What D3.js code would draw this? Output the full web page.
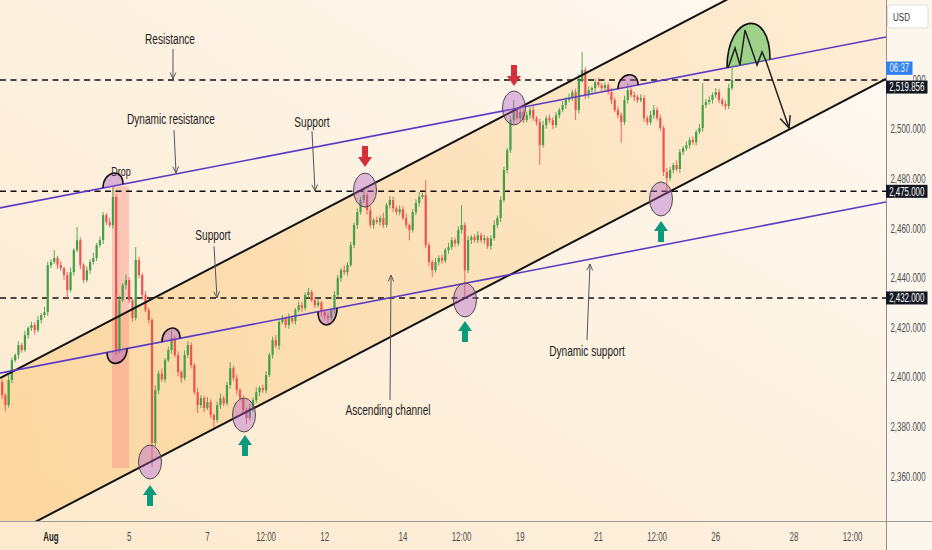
<!DOCTYPE html>
<html><head><meta charset="utf-8">
<script src="https://cdn.jsdelivr.net/npm/d3@7"></script>
<style>html,body{margin:0;padding:0;background:#fdf3e3;overflow:hidden}svg{display:block}</style>
</head><body>
<svg id="chart" width="932" height="550"></svg>
<script>
// ---------------- DATA ----------------
// Candle i sits at trading-day (since Aug 1) = firstDay + i * barStep
const firstDay = -1.25;
const barStep = 1 / 12;
const firstOpen = 2398.0;
const closes = [
 2392.8,2388.8,2398.9,2406.9,2409.0,2413.0,2411.0,2417.0,2419.9,2421.1,
 2419.0,2423.1,2425.1,2426.3,2445.2,2446.5,2448.1,2445.3,2444.0,2441.2,
 2435.2,2442.4,2451.3,2455.3,2445.3,2439.2,2443.2,2446.5,2448.1,2453.3,
 2455.3,2465.4,2462.6,2461.4,2472.7,2411.0,2431.1,2437.2,2439.2,2431.1,
 2423.9,2447.3,2441.2,2433.2,2427.1,2423.1,2373.5,2394.8,2401.5,2399.2,
 2406.9,2411.0,2415.8,2409.0,2402.1,2399.7,2409.0,2413.0,2404.9,2394.0,
 2388.8,2391.6,2387.6,2390.0,2384.8,2382.8,2388.8,2391.6,2389.5,2396.9,
 2403.7,2399.7,2394.8,2391.6,2386.8,2383.6,2387.6,2390.8,2394.0,2395.7,
 2394.8,2400.9,2409.0,2415.0,2412.8,2422.3,2423.9,2421.1,2423.9,2422.6,
 2427.1,2429.1,2428.0,2433.2,2434.4,2431.1,2429.1,2430.2,2426.3,2424.7,
 2423.9,2427.1,2433.2,2440.0,2443.2,2442.4,2445.3,2453.3,2461.4,2466.6,
 2471.5,2473.5,2467.4,2461.4,2463.4,2462.6,2464.2,2461.4,2469.4,2471.5,
 2468.2,2466.6,2467.8,2464.2,2461.4,2459.4,2466.6,2470.3,2472.7,2473.5,
 2453.3,2446.5,2443.2,2446.5,2448.1,2447.0,2451.3,2452.5,2455.3,2454.0,
 2459.4,2461.4,2443.2,2455.3,2456.5,2455.3,2457.3,2455.3,2456.1,2452.9,
 2456.1,2461.4,2464.2,2471.5,2483.6,2491.6,2503.7,2507.8,2504.5,2507.0,
 2503.7,2505.7,2507.8,2504.5,2502.9,2493.6,2501.7,2504.5,2503.7,2501.7,
 2505.7,2507.8,2509.8,2511.8,2512.6,2515.0,2507.8,2519.9,2523.9,2513.8,
 2515.8,2516.6,2519.0,2517.8,2516.6,2517.8,2515.0,2511.8,2507.8,2505.7,
 2502.9,2511.8,2515.8,2513.8,2513.0,2511.8,2512.6,2504.5,2502.9,2505.7,
 2507.8,2504.5,2500.5,2482.8,2480.3,2483.6,2485.6,2484.0,2490.8,2492.4,
 2493.6,2495.7,2494.8,2498.9,2500.5,2509.8,2511.0,2511.8,2513.8,2515.0,
 2511.8,2510.2,2509.4,2516.6,2519.856
];
const upperWicks = [
 1.2,0.8,2.0,1.1,0.6,1.5,0.9,1.8,0.7,1.3,
 1.0,1.6,0.8,2.2,1.4,1.1,3.2,0.9,1.7,0.6,
 1.3,1.9,0.8,5.3,1.2,0.7,1.5,1.0,2.1,0.9,
 1.4,1.2,0.8,1.6,4.0,1.1,1.8,0.9,2.3,1.2,
 0.7,5.2,1.3,0.9,1.6,1.1,0.8,1.9,1.2,2.0,
 0.9,1.4,3.2,1.0,1.5,0.7,1.8,1.6,1.1,0.8,
 1.7,1.2,0.9,2.1,1.0,0.6,1.4,1.8,0.9,1.3,
 2.4,1.0,1.5,0.8,1.2,0.9,1.7,1.1,2.0,0.8,
 1.3,1.6,0.9,1.4,2.1,1.0,1.2,0.7,1.9,1.1,
 0.8,1.5,1.2,1.0,1.6,0.9,1.3,2.0,0.7,1.1,
 1.4,0.9,1.6,1.2,0.8,1.8,1.1,1.3,0.9,1.5,
 1.2,3.2,1.0,1.7,0.8,1.4,1.1,2.2,0.9,1.6,
 1.3,0.8,1.5,1.1,1.9,0.7,1.2,1.4,2.0,1.0,
 6.0,1.2,0.9,1.6,1.1,1.4,0.8,1.7,1.2,1.0,
 1.5,8.0,1.1,1.8,0.9,1.3,1.6,1.0,1.4,0.8,
 1.2,1.9,1.0,1.5,1.3,0.9,1.8,4.0,1.1,1.6,
 0.9,1.4,1.2,2.0,0.8,1.3,1.7,1.0,1.5,1.1,
 1.3,0.9,1.6,1.2,1.8,1.0,1.4,2.2,7.3,1.1,
 1.5,0.8,1.3,1.7,1.0,1.2,0.9,1.6,1.1,1.4,
 1.0,1.8,2.8,1.1,1.3,0.9,1.5,1.2,1.0,1.7,
 2.0,1.1,1.4,0.9,1.6,1.2,1.0,1.8,1.3,0.9,
 1.5,1.1,1.4,1.0,1.7,8.8,1.2,1.5,1.0,1.6,
 1.3,0.9,1.4,1.8,4.8
];
const lowerWicks = [
 1.5,2.5,1.0,1.3,0.8,1.6,1.1,0.7,1.4,1.2,
 1.8,0.9,1.3,1.0,1.6,1.2,0.8,1.5,1.1,1.9,
 3.7,1.0,1.4,0.8,1.7,1.2,0.9,1.5,1.1,1.3,
 0.9,1.6,1.2,1.0,1.4,2.0,1.3,0.8,1.7,1.1,
 1.5,1.0,1.3,1.8,0.9,1.4,9.7,1.2,1.6,1.0,
 1.3,0.8,1.5,1.1,1.7,2.0,1.0,1.2,1.4,0.9,
 3.2,1.1,1.6,0.8,1.3,3.2,1.0,1.5,1.2,0.9,
 1.4,1.1,1.7,1.0,1.3,2.4,0.9,1.5,1.2,1.6,
 1.0,1.3,0.8,1.4,1.1,1.7,0.9,1.2,1.5,1.0,
 1.3,0.9,1.6,1.1,1.4,0.8,1.2,1.0,1.7,1.3,
 2.4,1.0,1.3,0.9,1.5,1.1,1.4,0.8,1.2,1.6,
 1.0,1.3,1.8,1.1,1.4,0.9,1.5,1.2,1.0,1.3,
 1.6,1.1,1.3,0.9,1.4,4.1,1.0,1.2,1.5,0.8,
 1.3,1.7,2.8,1.0,1.4,1.2,0.9,1.5,1.1,1.3,
 1.0,1.4,10.8,1.2,1.6,0.9,1.3,1.1,1.5,1.2,
 1.4,1.0,1.2,1.6,0.9,1.3,1.1,1.5,1.0,1.4,
 1.2,0.9,1.5,1.1,1.3,8.0,1.0,1.4,1.2,1.6,
 1.1,1.3,0.9,1.5,1.0,1.2,4.0,1.4,1.1,1.6,
 1.3,1.0,1.5,0.9,1.2,1.4,1.1,1.7,1.0,1.3,
 8.4,1.1,1.4,1.0,1.6,1.2,0.9,1.5,1.3,1.1,
 1.4,1.0,1.2,1.6,6.0,1.1,1.3,0.9,1.5,1.2,
 1.0,1.4,1.1,1.3,0.9,1.5,1.2,1.0,1.4,1.1,
 1.3,1.0,1.5,1.2,0.8
];

// Axis ticks
const priceTicks = [2360, 2380, 2400, 2420, 2440, 2460, 2480, 2500];
const hiddenTick = 2520; // mostly covered by the countdown label
const timeTickDays = [0, 2, 4, 5.5, 7, 9, 10.5, 12, 14, 15.5, 17, 19, 20.5];
const timeTickLabels = ['Aug', '5', '7', '12:00', '12', '14', '12:00', '19', '21', '12:00', '26', '28', '12:00'];

// Drawings (trading-day, price)
const channelUpper = [[-1.304, 2399.7], [21.355, 2585.7]];
const channelLower = [[-1.304, 2334.3], [21.355, 2520.3]];
const dynamicResistance = [[-1.304, 2468.3], [21.355, 2537.2]];
const dynamicSupport = [[-1.304, 2401.7], [21.355, 2470.7]];
const horizontalLevels = [2519.9, 2475.0, 2432.0];
const boxLevels = [2475.0, 2432.0];
const lastPrice = 2519.856;
const countdown = '06:37';
const dropZone = [[1.56, 2477.0], [1.995, 2363.4]];

const arcLines = ['res', 'sup', 'sup', 'sup', 'res'];
const arcFrom = [1.330, 1.432, 2.839, 6.829, 14.501];
const arcTo = [1.841, 1.944, 3.299, 7.315, 15.013];
const arcBulge = [5.2, -5.1, 4.8, -6.0, 4.8];
const greenArc = [17.289, 18.389, 16.1];

const touchDays = [2.532, 4.936, 8.031, 10.588, 11.841, 15.601];
const touchPrices = [2365.85, 2384.8, 2475.5, 2431.2, 2508.6, 2471.9];

const upArrowDays = [2.532, 4.962, 10.588, 15.601];
const upArrowPrices = [2356.6, 2376.7, 2422.7, 2463.0];
const downArrowDays = [8.031, 11.841];
const downArrowPrices = [2484.8, 2517.5];

const noteTexts = ['Resistance', 'Dynamic resistance', 'Support', 'Drop', 'Support', 'Ascending channel', 'Dynamic support'];
const noteDays = [3.043, 3.069, 6.675, 1.790, 4.143, 8.619, 13.708];
const notePrices = [2534.4, 2502.1, 2500.9, 2481.2, 2455.4, 2384.8, 2408.6];

const pointerFrom = [[3.120, 2532.4], [3.146, 2499.7], [6.675, 2499.3], [4.169, 2452.9], [8.670, 2390.8], [13.708, 2415.0]];
const pointerTo = [[3.120, 2520.3], [3.197, 2482.4], [6.752, 2475.1], [4.246, 2432.0], [8.696, 2441.2], [13.785, 2445.7]];

const patternDays = [17.315, 17.494, 17.621, 17.749, 18.056, 18.184, 18.286, 18.875];
const patternPrices = [2524.7, 2532.8, 2525.9, 2540.0, 2525.9, 2531.2, 2527.5, 2500.5];

// ---------------- DRAWING ----------------
const W = 932, H = 550, plotR = 886, plotB = 521;
const svg = d3.select('#chart');
const x = d3.scaleLinear().domain([-1.3043, 21.355]).range([0, plotR]);
const y = d3.scaleLinear().domain([2342.06, 2552.14]).range([plotB, 0]);
const FONT = '"Liberation Sans", Arial, sans-serif';

const defs = svg.append('defs');
const bg = defs.append('linearGradient').attr('id', 'bg').attr('x1', 0).attr('y1', 1).attr('x2', 1).attr('y2', 0);
bg.append('stop').attr('offset', 0).attr('stop-color', '#fde9cc');
bg.append('stop').attr('offset', 0.5).attr('stop-color', '#fdf1e0');
bg.append('stop').attr('offset', 1).attr('stop-color', '#fffaf4');
const cf = defs.append('linearGradient').attr('id', 'chf').attr('x1', 0).attr('y1', 0).attr('x2', 1).attr('y2', 0);
cf.append('stop').attr('offset', 0).attr('stop-color', 'rgba(250,185,90,0.40)');
cf.append('stop').attr('offset', 1).attr('stop-color', 'rgba(250,195,110,0.22)');
defs.append('clipPath').attr('id', 'clip').append('rect').attr('x', 0).attr('y', 0).attr('width', plotR).attr('height', plotB);
defs.append('clipPath').attr('id', 'clipTick').append('rect').attr('x', 913).attr('y', 0).attr('width', 20).attr('height', 100);

svg.append('rect').attr('width', W).attr('height', H).attr('fill', 'url(#bg)');
svg.append('rect').attr('x', plotR).attr('y', 0).attr('width', W - plotR).attr('height', H).attr('fill', '#fdf6ec');

const plot = svg.append('g').attr('clip-path', 'url(#clip)');

function lineAt(l, d) { return l[0][1] + (l[1][1] - l[0][1]) * (d - l[0][0]) / (l[1][0] - l[0][0]); }

// Channel fill
const d0 = x.domain()[0], d1 = x.domain()[1];
plot.append('path')
  .attr('d', d3.line()([[x(d0), y(lineAt(channelUpper, d0))], [x(d1), y(lineAt(channelUpper, d1))],
                        [x(d1), y(lineAt(channelLower, d1))], [x(d0), y(lineAt(channelLower, d0))]]) + 'Z')
  .attr('fill', 'url(#chf)');

// Drop zone
plot.append('rect')
  .attr('x', x(dropZone[0][0])).attr('y', y(dropZone[0][1]))
  .attr('width', x(dropZone[1][0]) - x(dropZone[0][0]))
  .attr('height', y(dropZone[1][1]) - y(dropZone[0][1]))
  .attr('fill', 'rgba(253,140,130,0.42)');

// Horizontal dashed levels
plot.selectAll('.lvl').data(horizontalLevels).enter().append('line')
  .attr('x1', 0).attr('x2', plotR).attr('y1', d => y(d)).attr('y2', d => y(d))
  .attr('stroke', '#111').attr('stroke-width', 1.6).attr('stroke-dasharray', '6,4.5');

// Candles
const bars = closes.map((c, i) => {
  const o = i === 0 ? firstOpen : closes[i - 1];
  return { d: firstDay + i * barStep, o, c, h: Math.max(o, c) + upperWicks[i], l: Math.min(o, c) - lowerWicks[i] };
});
const cg = plot.append('g');
bars.forEach(b => {
  const col = b.c >= b.o ? '#43a047' : '#ef5350';
  const X = x(b.d);
  cg.append('line').attr('x1', X).attr('x2', X).attr('y1', y(b.h)).attr('y2', y(b.l)).attr('stroke', col).attr('stroke-width', 0.9);
  const top = y(Math.max(b.o, b.c)), bot = y(Math.min(b.o, b.c));
  cg.append('rect').attr('x', X - 1.1).attr('width', 2.2).attr('y', top).attr('height', Math.max(0.8, bot - top)).attr('fill', col);
});

// Channel & dynamic lines
function drawLine(l, color, w) {
  plot.append('line').attr('x1', x(d0)).attr('y1', y(lineAt(l, d0))).attr('x2', x(d1)).attr('y2', y(lineAt(l, d1)))
    .attr('stroke', color).attr('stroke-width', w);
}
drawLine(channelUpper, '#111', 2);
drawLine(channelLower, '#111', 2);
drawLine(dynamicResistance, '#5b3cc4', 1.6);
drawLine(dynamicSupport, '#5b3cc4', 1.6);

// Notes text
function txt(g, s, X, Y, size, sx, fill, anchor, weight) {
  return g.append('text').attr('transform', `translate(${X},${Y}) scale(${sx},1)`)
    .attr('text-anchor', anchor || 'middle').attr('font-size', size).attr('font-family', FONT)
    .attr('font-weight', weight || 'normal').attr('fill', fill).text(s);
}
noteTexts.forEach((t, i) => {
  txt(plot, t, x(noteDays[i]), y(notePrices[i]), t === 'Drop' ? 12.5 : 14, 0.72, '#1b1b1b');
});

// Pointer arrows
function arrowHead(g, x1, y1, x2, y2, len, color, w) {
  const a = Math.atan2(y2 - y1, x2 - x1), s = 0.42;
  const p1 = [x2 - len * Math.cos(a - s), y2 - len * Math.sin(a - s)];
  const p2 = [x2 - len * Math.cos(a + s), y2 - len * Math.sin(a + s)];
  g.append('path').attr('d', `M${p1[0]},${p1[1]}L${x2},${y2}L${p2[0]},${p2[1]}`)
    .attr('fill', 'none').attr('stroke', color).attr('stroke-width', w);
}
pointerFrom.forEach((f, i) => {
  const t = pointerTo[i];
  const X1 = x(f[0]), Y1 = y(f[1]), X2 = x(t[0]), Y2 = y(t[1]);
  plot.append('line').attr('x1', X1).attr('y1', Y1).attr('x2', X2).attr('y2', Y2).attr('stroke', '#555').attr('stroke-width', 1);
  arrowHead(plot, X1, Y1, X2, Y2, 7, '#555', 1);
});

// Arcs
function arcPath(l, a, b, bulge) {
  const X1 = x(a), Y1 = y(lineAt(l, a)), X2 = x(b), Y2 = y(lineAt(l, b));
  const k = (4 / 3) * (y(0) - y(bulge));
  return `M${X1},${Y1}C${X1},${Y1 - k} ${X2},${Y2 - k} ${X2},${Y2}`;
}
arcLines.forEach((ln, i) => {
  const l = ln === 'res' ? dynamicResistance : dynamicSupport;
  plot.append('path').attr('d', arcPath(l, arcFrom[i], arcTo[i], arcBulge[i]))
    .attr('fill', 'rgba(170,90,200,0.42)').attr('stroke', '#111').attr('stroke-width', 1.6);
});
plot.append('path').attr('d', arcPath(dynamicResistance, greenArc[0], greenArc[1], greenArc[2]))
  .attr('fill', 'rgba(80,190,80,0.55)').attr('stroke', '#111').attr('stroke-width', 1.6);

// Touch ellipses
touchDays.forEach((d, i) => {
  plot.append('ellipse').attr('cx', x(d)).attr('cy', y(touchPrices[i])).attr('rx', 11.5).attr('ry', 17)
    .attr('fill', 'rgba(175,95,205,0.4)').attr('stroke', '#4a4a4a').attr('stroke-width', 1);
});

// Block arrows
function blockArrow(X, Y, dir, color) {
  const s = dir; // 1 = up (tip at top), -1 = down
  const pts = [[X, Y], [X + 7, Y + 10 * s], [X + 3, Y + 10 * s], [X + 3, Y + 21 * s], [X - 3, Y + 21 * s], [X - 3, Y + 10 * s], [X - 7, Y + 10 * s]];
  plot.append('path').attr('d', d3.line()(pts) + 'Z').attr('fill', color);
}
upArrowDays.forEach((d, i) => blockArrow(x(d), y(upArrowPrices[i]), 1, '#0c9a7d'));
downArrowDays.forEach((d, i) => blockArrow(x(d), y(downArrowPrices[i]), -1, '#d2313c'));

// Head & shoulders zigzag with projection arrow
const zz = patternDays.map((d, i) => [x(d), y(patternPrices[i])]);
plot.append('path').attr('d', d3.line()(zz)).attr('fill', 'none').attr('stroke', '#222').attr('stroke-width', 1.5);
const n = zz.length;
arrowHead(plot, zz[n - 2][0], zz[n - 2][1], zz[n - 1][0], zz[n - 1][1], 13, '#222', 1.5);

// ---------------- AXES ----------------
svg.append('line').attr('x1', 0).attr('x2', W).attr('y1', plotB + 0.5).attr('y2', plotB + 0.5).attr('stroke', '#9a9a9a').attr('stroke-width', 1);
svg.append('line').attr('x1', plotR + 0.5).attr('x2', plotR + 0.5).attr('y1', 0).attr('y2', H).attr('stroke', '#8f8f8f').attr('stroke-width', 1);

const fmt = d3.format(',.3f');
priceTicks.forEach(p => txt(svg, fmt(p), 908, y(p) + 4, 12, 0.66, '#4d4d4d'));
// 2,520 tick: only the tail is visible beside the countdown label
svg.append('g').attr('clip-path', 'url(#clipTick)').call(g => txt(g, fmt(hiddenTick), 908, y(hiddenTick) + 4, 12, 0.66, '#4d4d4d'));

timeTickDays.forEach((d, i) => {
  const isMonth = timeTickLabels[i] === 'Aug';
  txt(svg, timeTickLabels[i], x(d), 541, 12, 0.66, isMonth ? '#222' : '#4d4d4d', 'middle', isMonth ? 'bold' : 'normal');
});

// Level boxes
function priceBox(p, cy, fill) {
  svg.append('rect').attr('x', plotR).attr('y', cy - 6.5).attr('width', 41.5).attr('height', 13).attr('fill', fill);
  txt(svg, fmt(p), plotR + 20.8, cy + 4.2, 12, 0.66, '#fff');
}
boxLevels.forEach(p => priceBox(p, y(p), '#131722'));
// current price + countdown
const ly = y(lastPrice);
svg.append('rect').attr('x', plotR).attr('y', ly - 18.5).attr('width', 26.5).attr('height', 13.3).attr('fill', '#2f80ed');
txt(svg, countdown, plotR + 13.3, ly - 8, 12, 0.66, '#e8f0ff');
priceBox(lastPrice, ly + 7, '#131722');

// USD box
svg.append('rect').attr('x', 887.5).attr('y', 5).attr('width', 40.5).attr('height', 23).attr('rx', 3)
  .attr('fill', '#ffffff').attr('stroke', '#e3dfd8');
txt(svg, 'USD', 893, 21, 11.5, 0.7, '#333', 'start');
</script>
</body></html>
